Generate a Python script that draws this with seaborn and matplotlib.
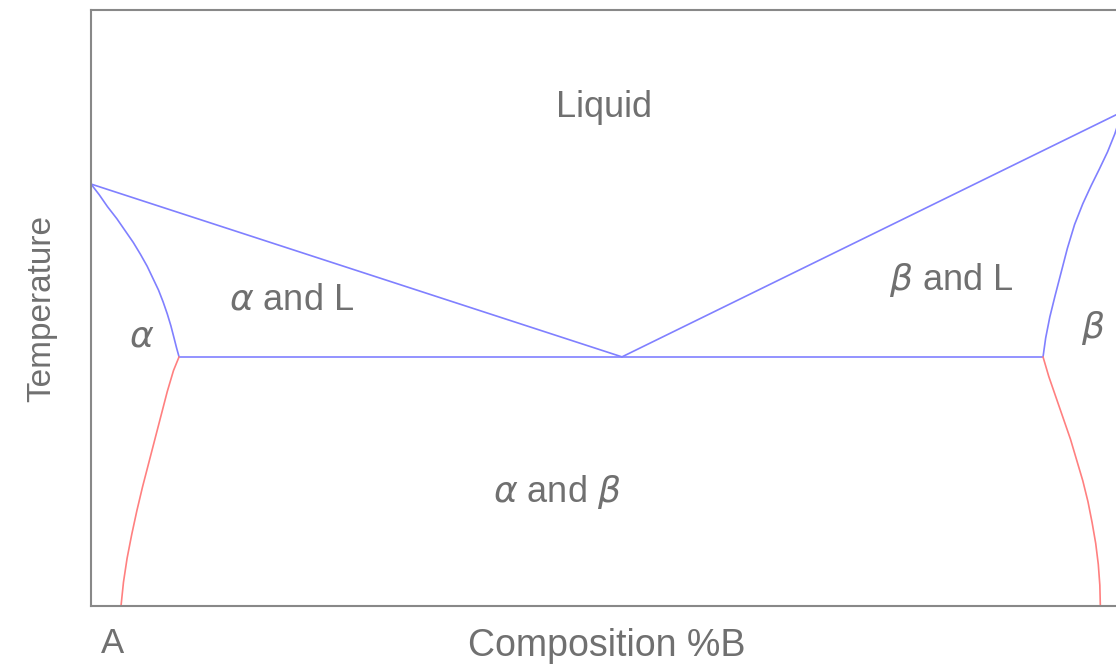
import matplotlib
matplotlib.use("Agg")
import matplotlib.pyplot as plt
import seaborn as sns
import pandas as pd

# ---------------------------------------------------------
# Phase boundaries (composition %B, relative temperature)
# ---------------------------------------------------------
liq_left_x = [0.0, 51.5]
liq_left_y = [70.8, 41.8]

liq_right_x = [51.5, 100.0]
liq_right_y = [41.8, 82.9]

eutectic_x = [8.54, 92.34]
eutectic_y = [41.8, 41.8]

sol_left_x = [0.0, 0.8, 1.6, 2.5, 3.3, 4.1, 4.8, 5.45, 6.0, 6.55, 7.0, 7.4, 7.75, 8.05, 8.3, 8.54]
sol_left_y = [70.8, 69.0, 67.0, 65.0, 63.0, 61.0, 59.0, 57.0, 55.0, 53.0, 51.0, 49.0, 47.0, 45.0, 43.3, 41.8]

sol_right_x = [92.34, 92.6, 93.0, 93.5, 94.1, 94.7, 95.4, 96.2,
               97.0, 97.8, 98.6, 99.3, 100.0]
sol_right_y = [41.8, 45.0, 48.5, 52.0, 56.0, 60.0, 64.0, 67.5,
               70.5, 73.3, 76.2, 79.2, 82.9]

solvus_left_x = [8.54, 8.0, 7.4, 6.8, 6.2, 5.6, 5.0, 4.45, 3.95, 3.5, 3.15, 2.91]
solvus_left_y = [41.8, 39.5, 36.0, 32.0, 28.0, 24.0, 20.0, 16.0, 12.0, 8.0, 4.0, 0.0]

solvus_right_x = [92.34, 92.9, 93.6, 94.3, 95.0, 95.6, 96.2, 96.7,
                  97.1, 97.45, 97.7, 97.85, 97.9]
solvus_right_y = [41.8, 38.5, 35.0, 31.5, 28.0, 24.5, 21.0, 17.5,
                  14.0, 10.5, 7.0, 3.5, 0.0]

region_labels = ["Liquid", r"$\alpha$ and L", r"$\alpha$", r"$\beta$ and L",
                 r"$\beta$", r"$\alpha$ and $\beta$"]
region_x = [49.8, 19.5, 4.9, 83.4, 97.2, 45.2]
region_y = [83.7, 51.3, 45.1, 54.7, 46.6, 19.1]

BLUE = "#8080ff"
RED = "#ff8080"
GREY = "#888888"
TEXT = "#707070"

sns.set_theme(style="white")
plt.rcParams["font.family"] = ["Liberation Sans", "DejaVu Sans"]
plt.rcParams["mathtext.fontset"] = "dejavusans"

fig = plt.figure(figsize=(11.16, 6.64), dpi=100)
ax = fig.add_axes([91 / 1116, 58 / 664, 1031 / 1116, 596 / 664])

curves = [
    (liq_left_x, liq_left_y, BLUE),
    (liq_right_x, liq_right_y, BLUE),
    (eutectic_x, eutectic_y, BLUE),
    (sol_left_x, sol_left_y, BLUE),
    (sol_right_x, sol_right_y, BLUE),
    (solvus_left_x, solvus_left_y, RED),
    (solvus_right_x, solvus_right_y, RED),
]
for xs, ys, col in curves:
    df = pd.DataFrame({"x": xs, "y": ys})
    sns.lineplot(data=df, x="x", y="y", sort=False, estimator=None,
                 color=col, linewidth=1.2, ax=ax)

for lab, x, y in zip(region_labels, region_x, region_y):
    ax.text(x, y, lab, ha="center", va="center", fontsize=26, color=TEXT)

ax.set_xlim(0, 100)
ax.set_ylim(0, 100)
ax.set_xticks([])
ax.set_yticks([])

for side in ["left", "top", "bottom", "right"]:
    ax.spines[side].set_color(GREY)
    ax.spines[side].set_linewidth(1.5)

ax.set_xlabel("Composition %B", fontsize=27, color=TEXT, labelpad=16)
ax.set_ylabel("Temperature", fontsize=24, color=TEXT, labelpad=24)
ax.text(2.1, -3.6, "A", ha="center", va="top", fontsize=25, color=TEXT,
        clip_on=False)

fig.savefig("out.png", dpi=100)
